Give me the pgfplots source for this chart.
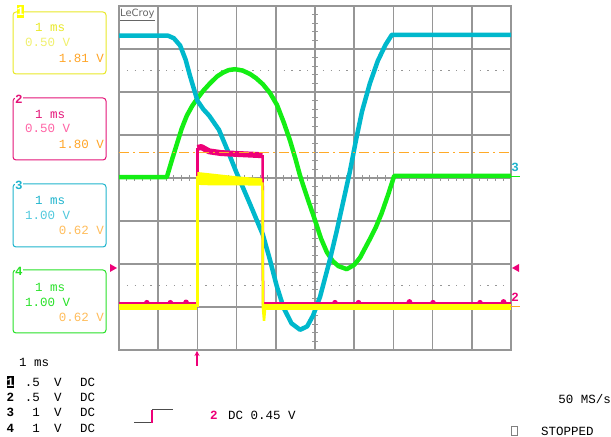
\documentclass[border=0pt]{standalone}
\usepackage{pgfplots}
\pgfplotsset{compat=1.18}
\usetikzlibrary{arrows.meta}
\usepackage{fontspec}
\setmainfont{Liberation Mono}
\newfontfamily\lecroyfont{DejaVu Sans}
\definecolor{cyT}{RGB}{0,184,204}
\definecolor{grT}{RGB}{20,238,20}
\definecolor{yeT}{RGB}{255,255,0}
\definecolor{maT}{RGB}{238,0,120}
\definecolor{orT}{RGB}{255,170,40}
\definecolor{gridc}{RGB}{150,150,150}
\definecolor{yeTxt}{RGB}{232,232,40}
\definecolor{yeLt}{RGB}{240,240,110}
\definecolor{orTxt}{RGB}{255,165,40}
\definecolor{orLt}{RGB}{255,188,90}
\definecolor{maTxt}{RGB}{228,20,120}
\definecolor{maLt}{RGB}{255,100,165}
\definecolor{cyTxt}{RGB}{30,180,205}
\definecolor{cyLt}{RGB}{80,200,220}
\definecolor{grTxt}{RGB}{40,225,40}
\newcommand\scf{\fontsize{12.5bp}{14bp}\selectfont}
\begin{document}
\begin{tikzpicture}
\path[use as bounding box] (0,0) rectangle (611bp,437bp);
\begin{scope}[x=1bp,y=-1bp,shift={(0bp,437bp)}]
% centre ticks and dotted lines
\foreach \i in {1,...,49} {\draw[gridc,line width=1bp] ({119+7.84*\i},175) -- ({119+7.84*\i},181);}
\foreach \j in {1,...,39} {\draw[gridc,line width=1bp] (312,{6+8.6*\j}) -- (318,{6+8.6*\j});}
\draw[gridc,line width=1.3bp,dash pattern=on 1.3bp off 6.54bp] (119,70.5) -- (511,70.5);
\draw[gridc,line width=1.3bp,dash pattern=on 1.3bp off 6.54bp] (119,285.5) -- (511,285.5);
\end{scope}
\begin{axis}[at={(119bp,87bp)}, anchor=south west, width=392bp, height=344bp, scale only axis,
  xmin=0, xmax=10, ymin=-4, ymax=4, xtick={0,...,10}, ytick={-4,...,4},
  xticklabels={}, yticklabels={}, major tick length=0pt, grid=major,
  grid style={gridc,line width=1.5bp}, axis line style={gridc,line width=1.5bp},
  clip=true]
% channel 4 (green)
\addplot[grT, line width=4.5bp, line join=round] coordinates {
(0,0.02)(1.22,0.02)(1.35,0.42)(1.48,0.8)(1.6,1.15)(1.73,1.45)(1.87,1.68)(2.0,1.85)(2.15,2.03)(2.32,2.2)(2.5,2.36)(2.65,2.45)(2.8,2.51)(2.96,2.53)(3.15,2.5)(3.34,2.42)(3.5,2.32)(3.67,2.18)(3.85,1.98)(4.03,1.7)(4.2,1.3)(4.36,0.88)(4.5,0.45)(4.62,0.05)(4.8,-0.45)(5.0,-0.98)(5.15,-1.4)(5.3,-1.72)(5.45,-1.93)(5.6,-2.05)(5.81,-2.12)(6.0,-2.02)(6.15,-1.85)(6.4,-1.42)(6.55,-1.15)(6.7,-0.82)(6.86,-0.4)(6.95,-0.15)(7.02,0.05)(10,0.05)};
% channel 3 (cyan)
\addplot[cyT, line width=4.5bp, line join=round] coordinates {
(0,3.31)(1.25,3.31)(1.4,3.25)(1.56,3.08)(1.7,2.75)(1.81,2.38)(2.0,1.8)(2.15,1.6)(2.3,1.45)(2.55,1.12)(2.78,0.62)(3.0,0.12)(3.34,-0.6)(3.67,-1.32)(3.85,-1.9)(4.02,-2.5)(4.2,-3.02)(4.4,-3.38)(4.62,-3.53)(4.8,-3.45)(4.95,-3.2)(5.13,-2.76)(5.38,-1.9)(5.55,-1.25)(5.72,-0.55)(5.89,0.15)(6.05,0.9)(6.2,1.55)(6.4,2.2)(6.6,2.72)(6.8,3.1)(6.96,3.33)(10,3.33)};
% channel 2 (magenta)
\addplot[maT, line width=5.5bp, line join=round] coordinates {
(0,-2.95)(0.7,-2.95)(0.71,-2.9)(0.72,-2.95)(1.3,-2.95)(1.31,-2.9)(1.32,-2.95)(1.7,-2.95)(1.71,-2.89)(1.72,-2.95)(2.0,-2.95)};
\addplot[maT, line width=2.5bp] coordinates {(2.0,-2.95)(2.0,0.7)};
\addplot[maT, line width=6bp, line join=round] coordinates {(2.0,0.7)(2.1,0.72)(2.3,0.62)(2.6,0.58)(3.0,0.56)(3.66,0.53)};
\addplot[maT, line width=2.5bp] coordinates {(3.665,0.53)(3.675,-2.95)};
\addplot[maT, line width=5.5bp, line join=round] coordinates {
(3.68,-2.95)(5.5,-2.95)(5.51,-2.9)(5.52,-2.95)(6.1,-2.95)(6.11,-2.9)(6.12,-2.95)(7.4,-2.95)(7.41,-2.88)(7.42,-2.95)(8.0,-2.95)(8.01,-2.9)(8.02,-2.95)(9.2,-2.95)(9.21,-2.9)(9.22,-2.95)(9.8,-2.95)(9.81,-2.88)(9.82,-2.95)(10,-2.95)};
% trigger level
\addplot[orT, line width=1.2bp, dash pattern=on 10bp off 4bp on 2bp off 4bp] coordinates {(0,0.6)(10,0.6)};
% channel 1 (yellow)
\addplot[yeT, line width=6bp] coordinates {(0,-3.0)(2.0,-3.0)};
\addplot[yeT, line width=2.5bp] coordinates {(2.0,-3.0)(2.0,0.05)};
\addplot[yeT, fill=yeT, draw=none] coordinates {(2.0,0.14)(2.3,0.11)(3.0,0.04)(3.66,-0.01)(3.66,-0.18)(3.0,-0.17)(2.3,-0.17)(2.0,-0.16)} -- cycle;
\addplot[yeT, line width=2.5bp] coordinates {(3.66,-0.1)(3.67,-3.0)(3.70,-3.32)(3.73,-3.0)};
\addplot[yeT, line width=6bp] coordinates {(3.68,-3.0)(10,-3.0)};
\end{axis}
\begin{scope}[x=1bp,y=-1bp,shift={(0bp,437bp)}]
\node[anchor=west,inner sep=0pt,text=gray!80!black] at (120,15) {\lecroyfont\fontsize{10bp}{10bp}\selectfont\underline{LeCroy}};
% boxes
\draw[yeTxt,line width=1bp,rounded corners=3bp] (13,12) rectangle (106,74);
\fill[yeT] (17,5) rectangle (24,18);
\node[inner sep=0pt,text=white] at (20.5,11.5) {\scf\bfseries 1};
\node[anchor=west,inner sep=0pt,text=yeTxt] at (35,27) {\scf 1 ms};
\node[anchor=west,inner sep=0pt,text=yeLt] at (25,42) {\scf 0.50 V};
\node[anchor=east,inner sep=0pt,text=orTxt] at (104,58) {\scf 1.81 V};
\draw[maTxt,line width=1bp,rounded corners=3bp] (13,98) rectangle (106,160);
\node[inner sep=0.5pt,fill=white,text=maTxt] at (19,99) {\scf\bfseries 2};
\node[anchor=west,inner sep=0pt,text=maTxt] at (35,114) {\scf 1 ms};
\node[anchor=west,inner sep=0pt,text=maLt] at (25,128) {\scf 0.50 V};
\node[anchor=east,inner sep=0pt,text=orTxt] at (104,144) {\scf 1.80 V};
\draw[cyTxt,line width=1bp,rounded corners=3bp] (13,184) rectangle (106,247);
\node[inner sep=0.5pt,fill=white,text=cyTxt] at (19,185) {\scf\bfseries 3};
\node[anchor=west,inner sep=0pt,text=cyTxt] at (35,200) {\scf 1 ms};
\node[anchor=west,inner sep=0pt,text=cyLt] at (25,215) {\scf 1.00 V};
\node[anchor=east,inner sep=0pt,text=orLt] at (104,230) {\scf 0.62 V};
\draw[grTxt,line width=1bp,rounded corners=3bp] (13,270) rectangle (106,333);
\node[inner sep=0.5pt,fill=white,text=grTxt] at (19,271) {\scf\bfseries 4};
\node[anchor=west,inner sep=0pt,text=grTxt] at (35,287) {\scf 1 ms};
\node[anchor=west,inner sep=0pt,text=grTxt] at (25,302) {\scf 1.00 V};
\node[anchor=east,inner sep=0pt,text=orLt] at (104,317) {\scf 0.62 V};
% markers
\fill[maT] (110,264) -- (117,268) -- (110,272) -- cycle;
\fill[maT] (519,264) -- (512,268) -- (519,272) -- cycle;
\node[inner sep=0pt,text=cyTxt] at (515,167) {\scf\bfseries 3};
\draw[grT,line width=1.5bp] (510,176.5) -- (520,176.5);
\node[inner sep=0pt,text=maT] at (515,297) {\scf\bfseries 2};
\draw[orT,line width=1.5bp] (510,306.5) -- (520,306.5);
\draw[maT,line width=2bp,-{Stealth[length=5bp,width=5bp]}] (197,366) -- (197,351);
% bottom text
\node[anchor=west,inner sep=0pt] at (19,362) {\scf 1 ms};
\fill[black] (7,376) rectangle (14,388);
\node[inner sep=0pt,text=white] at (10.5,382) {\scf\bfseries 1};
\node[inner sep=0pt] at (10.5,397) {\scf\bfseries 2};
\node[inner sep=0pt] at (10.5,412) {\scf\bfseries 3};
\node[inner sep=0pt] at (10.5,428) {\scf\bfseries 4};
\foreach \yy/\vv in {382/.5,397/.5,412/1,428/1} {
  \node[anchor=east,inner sep=0pt] at (40,\yy) {\scf \vv};
  \node[inner sep=0pt] at (58,\yy) {\scf V};
  \node[anchor=west,inner sep=0pt] at (80,\yy) {\scf DC};
}
\draw[black!70,line width=1bp] (134,423) -- (152,423);
\draw[maT,line width=1.5bp] (152,423) -- (152,410);
\draw[black!70,line width=1bp] (152,410) -- (173,410);
\node[anchor=west,inner sep=0pt,text=maT] at (210,415) {\scf\bfseries 2};
\node[anchor=west,inner sep=0pt] at (228,415) {\scf DC 0.45 V};
\node[anchor=east,inner sep=0pt] at (611,399) {\scf 50 MS/s};
\draw[gray,line width=0.8bp] (511,426) rectangle (517,435);
\node[anchor=west,inner sep=0pt] at (541,431) {\scf STOPPED};
\end{scope}
\end{tikzpicture}
\end{document}
